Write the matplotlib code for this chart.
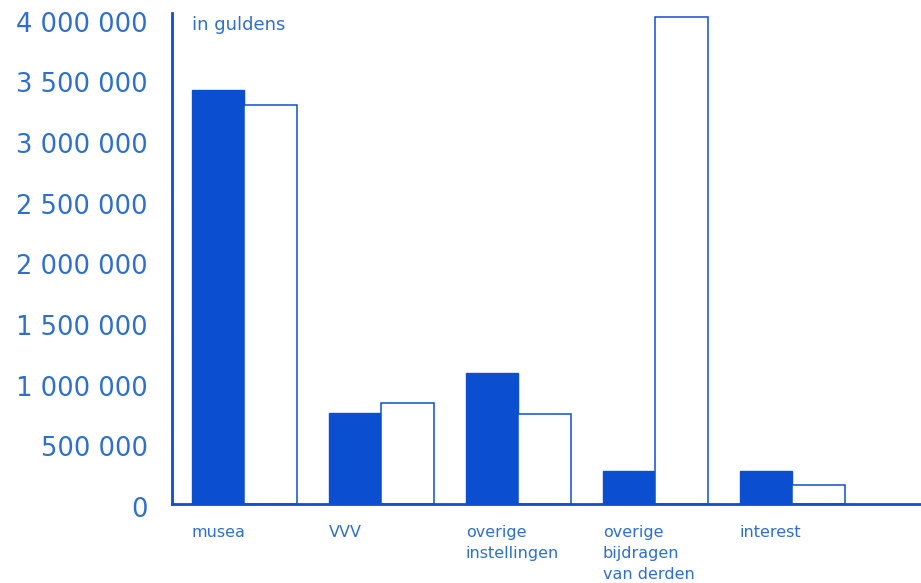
import numpy as np
import matplotlib
matplotlib.use("Agg")
import matplotlib.pyplot as plt
import matplotlib.transforms as mtransforms

# values in guldens
categories = ["musea", "VVV", "overige\ninstellingen", "overige\nbijdragen\nvan derden", "interest"]
filled = [3416000, 751000, 1081000, 272000, 272000]
open_ = [3292000, 833000, 743000, 4018000, 157000]
yticks = [0, 500000, 1000000, 1500000, 2000000, 2500000, 3000000, 3500000, 4000000]
ytick_labels = ["0", "500 000", "1 000 000", "1 500 000", "2 000 000",
                "2 500 000", "3 000 000", "3 500 000", "4 000 000"]

bar_col = "#0b4fd0"
txt_col = "#2c6fd0"

fig = plt.figure(figsize=(9.21, 5.83), dpi=100)
ax = fig.add_axes([172 / 921, 79 / 583, 1 - 172 / 921, (504 - 13) / 583])

x = np.arange(len(categories))
w = 0.383
ax.bar(x - w / 2, filled, width=w, color=bar_col, edgecolor=bar_col, linewidth=1.0)
ax.bar(x + w / 2, open_, width=w, color="white", edgecolor=bar_col, linewidth=1.1)

ax.set_xlim(-0.526, 4.94)
ax.set_ylim(0, 4.05e6)

for s in ["top", "right"]:
    ax.spines[s].set_visible(False)
for s in ["left", "bottom"]:
    ax.spines[s].set_color(bar_col)
    ax.spines[s].set_linewidth(2.0)

ax.set_yticks(yticks)
ax.set_yticklabels(ytick_labels, fontsize=18.5, color=txt_col)
ax.tick_params(axis="y", length=0, pad=17.5)
ax.set_xticks([])
# labels sit a little below their gridline in the original
shift = mtransforms.ScaledTranslation(0, -2 / 72, fig.dpi_scale_trans)
for t in ax.get_yticklabels():
    t.set_transform(t.get_transform() + shift)

# category labels, left aligned under filled bars
for i, lab in enumerate(categories):
    ax.text(x[i] - w, -0.175e6, lab, ha="left", va="top", fontsize=11.5,
            color=txt_col, linespacing=1.5, clip_on=False)

ax.text(x[0] - w, 3.95e6, "in guldens", ha="left", va="center", fontsize=13, color=txt_col)

fig.savefig("out.png", dpi=100)
